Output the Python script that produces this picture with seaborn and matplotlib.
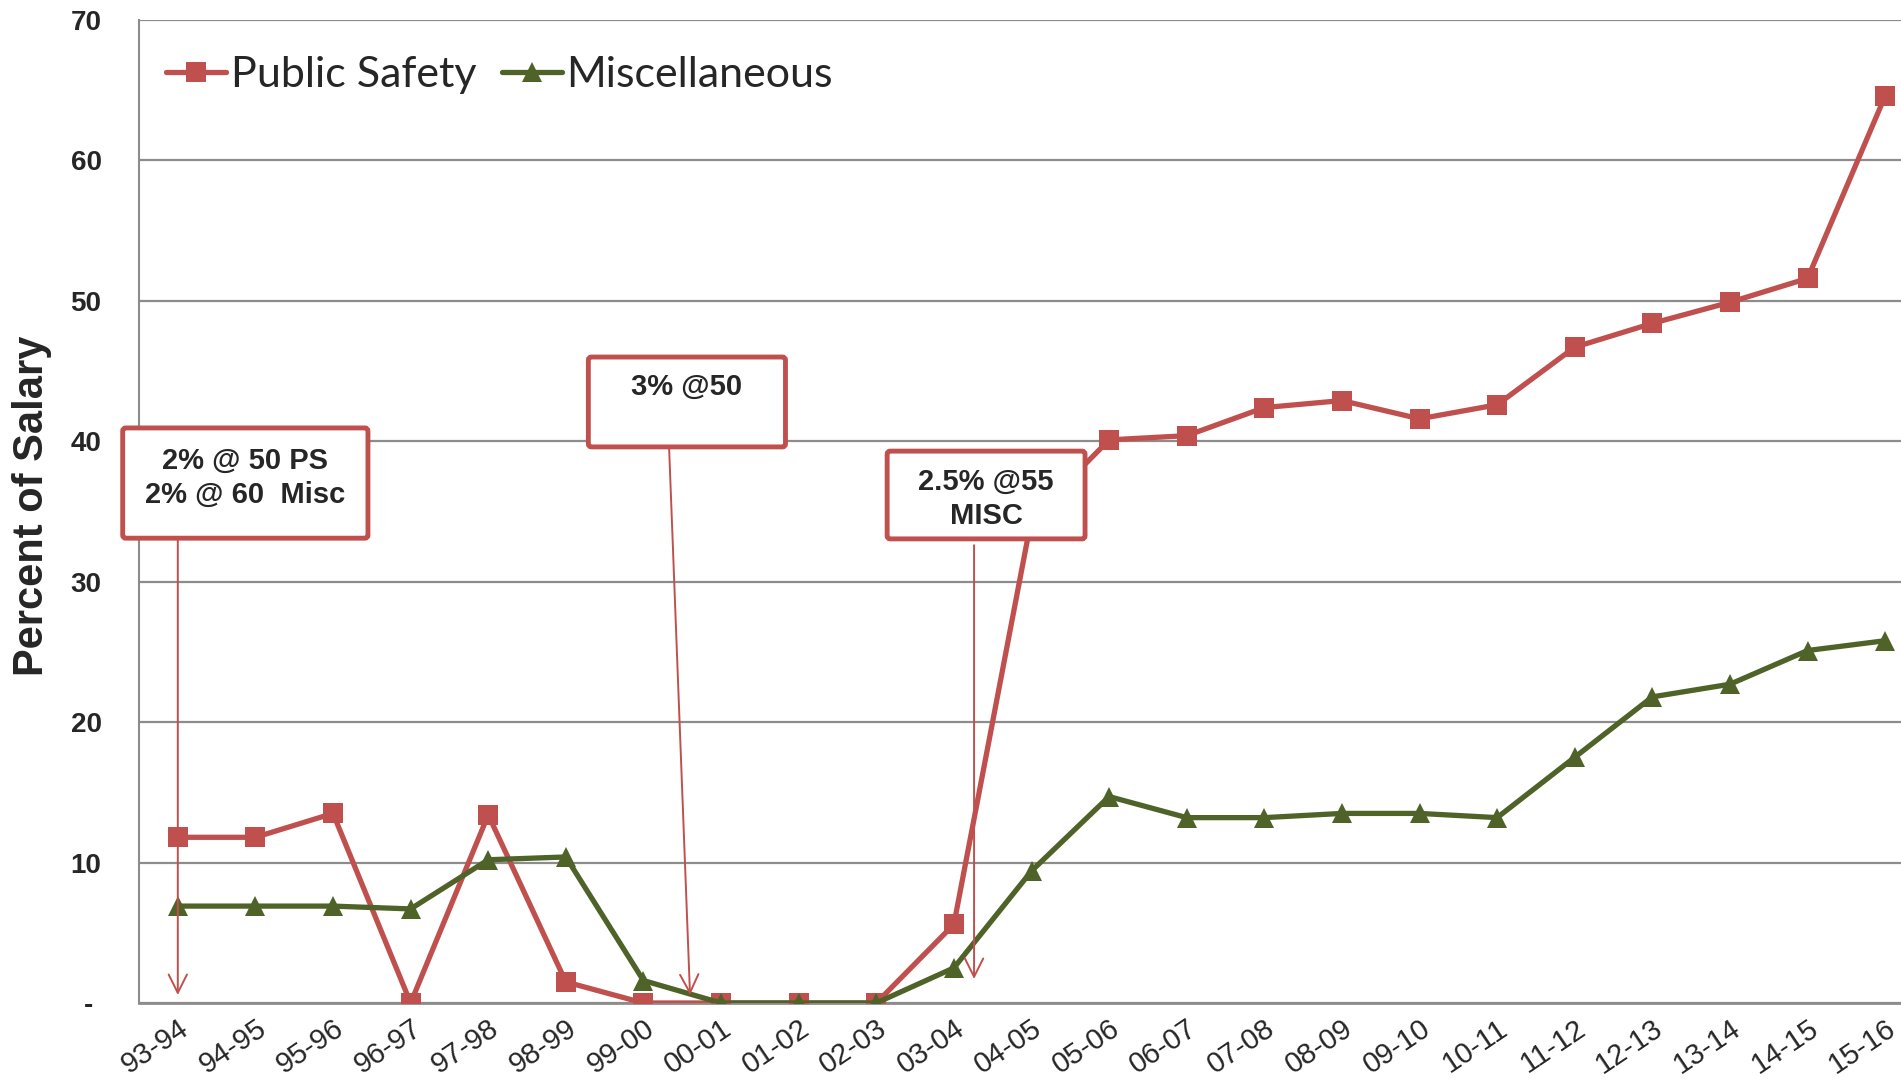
import numpy as np
import pandas as pd
import matplotlib
matplotlib.use("Agg")
import matplotlib.pyplot as plt
import matplotlib.transforms as mtransforms
import seaborn as sns
from matplotlib.patches import FancyBboxPatch

# ---------------- data ----------------
years = ["93-94", "94-95", "95-96", "96-97", "97-98", "98-99", "99-00", "00-01",
         "01-02", "02-03", "03-04", "04-05", "05-06", "06-07", "07-08", "08-09",
         "09-10", "10-11", "11-12", "12-13", "13-14", "14-15", "15-16"]
public_safety = [11.8, 11.8, 13.5, 0.0, 13.4, 1.5, 0.0, 0.0, 0.0, 0.0, 5.6, 34.5,
                 40.1, 40.4, 42.4, 42.9, 41.6, 42.6, 46.7, 48.4, 49.9, 51.6, 64.6]
miscellaneous = [6.9, 6.9, 6.9, 6.7, 10.2, 10.4, 1.6, 0.0, 0.0, 0.0, 2.5, 9.4,
                 14.7, 13.2, 13.2, 13.5, 13.5, 13.2, 17.5, 21.8, 22.7, 25.1, 25.8]
series_names = ["Public Safety", "Miscellaneous"]
y_ticks = [0, 10, 20, 30, 40, 50, 60, 70]
y_tick_labels = ["- ", "10", "20", "30", "40", "50", "60", "70"]
y_label = "Percent of Salary"

# annotation boxes: text, (x0, x1), (y0, y1) in data units, text y, arrow start, arrow end
notes = [
    ("2% @ 50 PS\n2% @ 60  Misc", (-0.71, 2.45), (33.1, 40.95), 37.4, (0.0, 33.8), (0.0, 0.57)),
    ("3% @50", (5.29, 7.83), (39.6, 46.0), 43.9, (6.33, 39.6), (6.60, 0.57)),
    ("2.5% @55\nMISC", (9.14, 11.69), (33.05, 39.3), 35.9, (10.26, 32.6), (10.26, 1.71)),
]

RED = "#C0504D"
GREEN = "#4F6228"
GRID = "#8C8C8C"

df = pd.DataFrame({
    "idx": list(range(len(years))) * 2,
    "value": public_safety + miscellaneous,
    "series": [series_names[0]] * len(years) + [series_names[1]] * len(years),
})

sns.set_style("white")
plt.rcParams["font.family"] = ["Liberation Sans", "DejaVu Sans"]

fig = plt.figure(figsize=(19.01, 10.79), dpi=100)
ax = fig.add_axes([139 / 1901, 76 / 1079, (1924 - 139) / 1901, (1003 - 20) / 1079])

sns.lineplot(data=df, x="idx", y="value", hue="series", style="series",
             hue_order=series_names, style_order=series_names,
             palette={series_names[0]: RED, series_names[1]: GREEN},
             markers={series_names[0]: "s", series_names[1]: "^"},
             dashes=False, linewidth=3.8, markersize=14, markeredgewidth=0,
             ax=ax, legend=True, zorder=3)

ax.set_xlim(-0.5, len(years) - 0.5)
ax.set_ylim(0, 70)
ax.set_yticks(y_ticks)
ax.set_yticklabels(y_tick_labels, fontsize=20, fontweight="bold")
ax.set_xticks(range(len(years)))
ax.set_xticklabels(years, rotation=34, ha="right", va="top",
                   rotation_mode="anchor", fontsize=21)
shift = mtransforms.ScaledTranslation(-6 / 100, 0, fig.dpi_scale_trans)
for lab in ax.get_xticklabels():
    lab.set_transform(lab.get_transform() + shift)
ax.set_xticks(np.arange(-0.5, len(years) + 0.5, 1), minor=True)
ax.tick_params(axis="x", which="major", length=0, pad=8)
ax.tick_params(axis="x", which="minor", length=7, width=1.5, color=GRID, direction="out")
ax.tick_params(axis="y", which="major", length=7, width=1.5, color=GRID, pad=20, direction="out")
ax.set_xlabel("")
ax.set_ylabel("")
ax.yaxis.grid(True, color=GRID, linewidth=1.6)
ax.set_axisbelow(True)
for s in ["top", "right"]:
    ax.spines[s].set_visible(False)
ax.spines["left"].set_color(GRID)
ax.spines["left"].set_linewidth(1.5)
ax.spines["bottom"].set_color(GRID)
ax.spines["bottom"].set_linewidth(2)

fig.text(32 / 1901, 1 - 506 / 1079, y_label, rotation=90, ha="center", va="center",
         fontsize=30, fontweight="bold")

# annotations
for text, (x0, x1), (y0, y1), ty, (ax0, ay0), (ax1, ay1) in notes:
    ax.annotate("", xy=(ax1, ay1), xytext=(ax0, ay0),
                arrowprops=dict(arrowstyle="->,head_length=0.6,head_width=0.3",
                                color=RED, lw=1.4, shrinkA=0, shrinkB=0,
                                mutation_scale=22), zorder=5)
    box = FancyBboxPatch((x0, y0), x1 - x0, y1 - y0,
                         boxstyle="round,pad=0,rounding_size=0.04",
                         facecolor="white", edgecolor=RED, linewidth=3.5,
                         zorder=6, clip_on=False, mutation_aspect=1 / 0.18)
    ax.add_patch(box)
    ax.text((x0 + x1) / 2, ty, text, ha="center", va="center", fontsize=21,
            fontweight="bold", linespacing=1.3, zorder=7)

handles, labels = ax.get_legend_handles_labels()
ax.legend(handles, labels, loc="center left", bbox_to_anchor=(166 / 1901, 1 - 75 / 1079),
          bbox_transform=fig.transFigure, ncol=2, frameon=False, borderpad=0,
          borderaxespad=0, handlelength=1.4, handletextpad=0.1, columnspacing=0.6,
          prop={"family": "Lato", "size": 31})

fig.savefig("out.png", dpi=100)
